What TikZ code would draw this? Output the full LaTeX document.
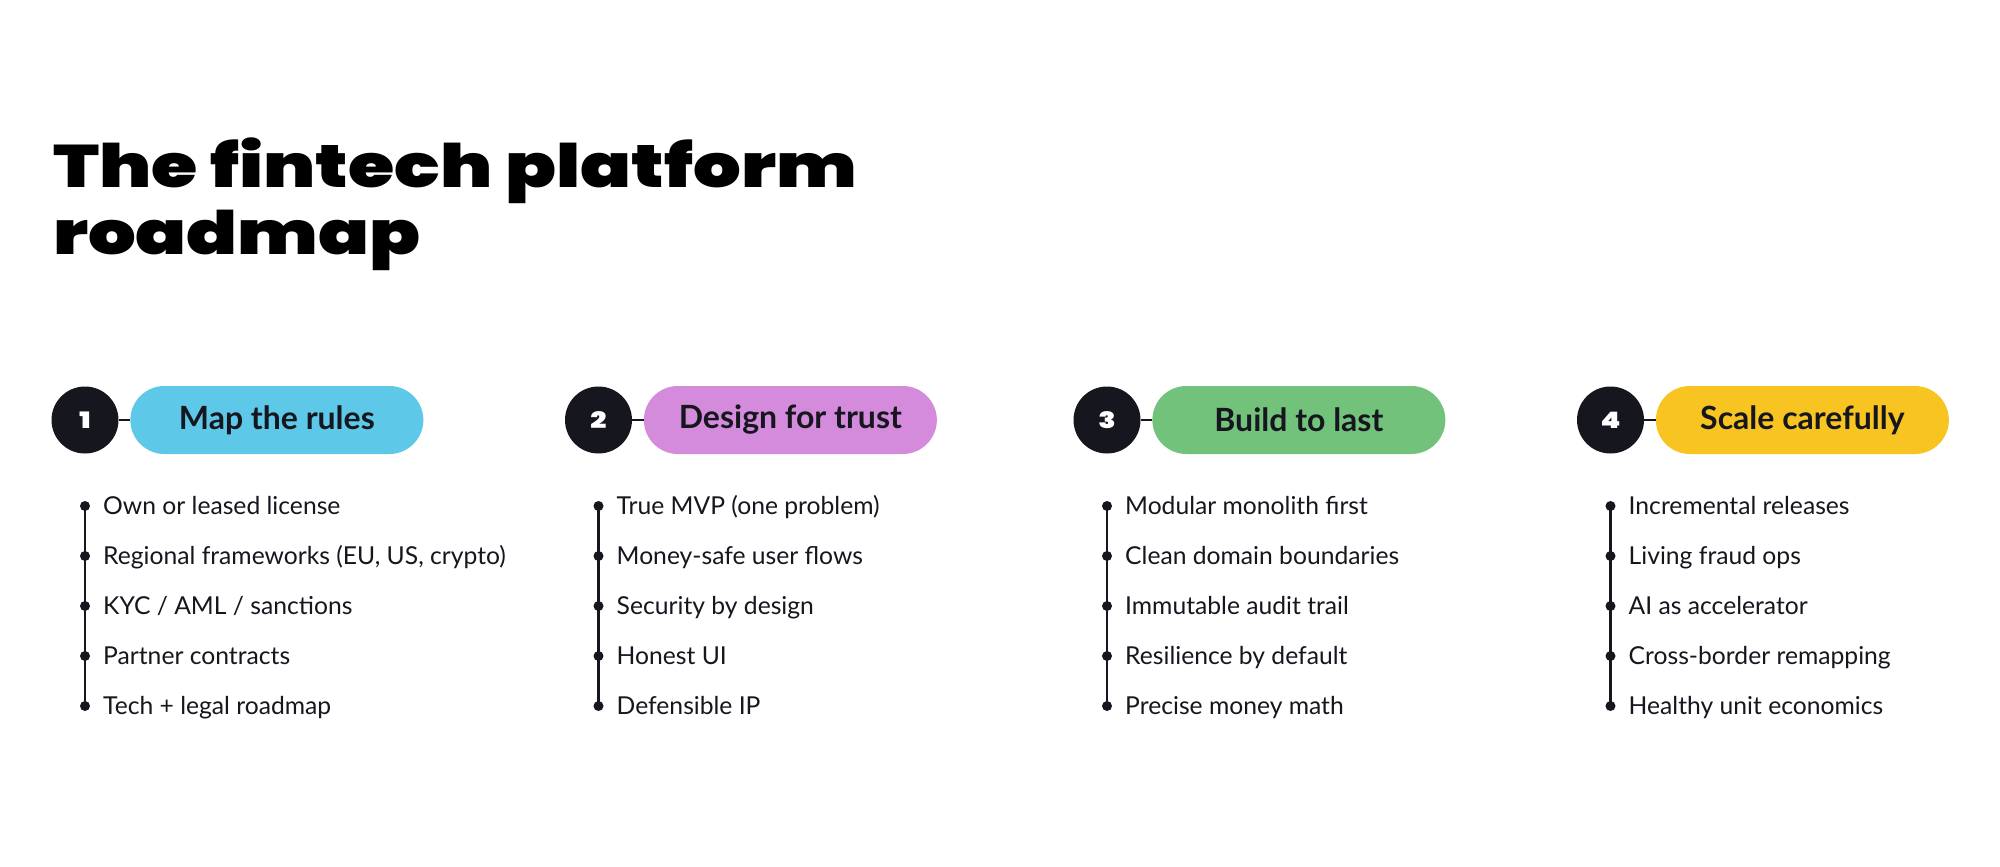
\documentclass[tikz,border=0pt]{standalone}
\usepackage{fontspec}
\setmainfont{Lato}
\newfontfamily\titlefont{Poppins Black}[FakeStretch=1.25]
\usetikzlibrary{positioning}

\definecolor{ink}{HTML}{16161F}
\definecolor{rulesblue}{HTML}{5DC8E7}
\definecolor{trustpink}{HTML}{D58BDB}
\definecolor{lastgreen}{HTML}{72C27B}
\definecolor{scaleyellow}{HTML}{F8C421}

\tikzset{
  numdot/.style={circle,fill=ink,minimum size=50.25pt,inner sep=0pt,
    text=white,font=\titlefont\fontsize{17}{17}\selectfont},
  pill/.style={rounded corners=25.5pt,minimum width=219.75pt,minimum height=51pt,
    inner sep=0pt,text=ink,font=\bfseries\fontsize{24}{24}\selectfont},
  link/.style={draw=ink,line width=1.5pt},
  stem/.style={draw=ink,line width=1.8pt},
  bulletdot/.style={circle,fill=ink,inner sep=0pt,minimum size=7.5pt},
  item/.style={anchor=west,inner sep=0pt,text=ink,text height=15.8pt,text depth=3pt,
    font=\fontsize{18.5}{18.5}\selectfont},
}

\begin{document}
\begin{tikzpicture}[x=0.75pt,y=-0.75pt]
\useasboundingbox[fill=white] (0,0) rectangle (2000,867);

% title
\node[anchor=base west,inner sep=0pt,font=\titlefont\fontsize{45}{45}\selectfont] (title1) at (53,187) {The fintech platform};
\node[anchor=base west,inner sep=0pt,font=\titlefont\fontsize{45}{45}\selectfont] (title2) at (53,254) {roadmap};

% column 1
\node[numdot] (n1) at (85,420) {1};
\node[pill,fill=rulesblue,right=8.5pt of n1] (p1) {Map the rules};
\draw[link] (n1) -- (p1);
\foreach \t [count=\k] in {Own or leased license, {Regional frameworks (EU, US, crypto)}, KYC / AML / sanctions, Partner contracts, Tech + legal roadmap} {
  \node[bulletdot] (d1-\k) at (85,456+50*\k) {};
  \node[item,right=9.5pt of d1-\k] (t1-\k) {\t};
}
\draw[stem] (d1-1.center) -- (d1-5.center);

% column 2
\node[numdot] (n2) at (598.5,420) {2};
\node[pill,fill=trustpink,right=8.5pt of n2] (p2) {Design for trust};
\draw[link] (n2) -- (p2);
\foreach \t [count=\k] in {True MVP (one problem), Money-safe user flows, Security by design, Honest UI, Defensible IP} {
  \node[bulletdot] (d2-\k) at (598.5,456+50*\k) {};
  \node[item,right=9.5pt of d2-\k] (t2-\k) {\t};
}
\draw[stem] (d2-1.center) -- (d2-5.center);

% column 3
\node[numdot] (n3) at (1107,420) {3};
\node[pill,fill=lastgreen,right=8.5pt of n3] (p3) {Build to last};
\draw[link] (n3) -- (p3);
\foreach \t [count=\k] in {Modular monolith first, Clean domain boundaries, Immutable audit trail, Resilience by default, Precise money math} {
  \node[bulletdot] (d3-\k) at (1107,456+50*\k) {};
  \node[item,right=9.5pt of d3-\k] (t3-\k) {\t};
}
\draw[stem] (d3-1.center) -- (d3-5.center);

% column 4
\node[numdot] (n4) at (1610.5,420) {4};
\node[pill,fill=scaleyellow,right=8.5pt of n4] (p4) {Scale carefully};
\draw[link] (n4) -- (p4);
\foreach \t [count=\k] in {Incremental releases, Living fraud ops, AI as accelerator, Cross-border remapping, Healthy unit economics} {
  \node[bulletdot] (d4-\k) at (1610.5,456+50*\k) {};
  \node[item,right=9.5pt of d4-\k] (t4-\k) {\t};
}
\draw[stem] (d4-1.center) -- (d4-5.center);
\end{tikzpicture}
\end{document}
